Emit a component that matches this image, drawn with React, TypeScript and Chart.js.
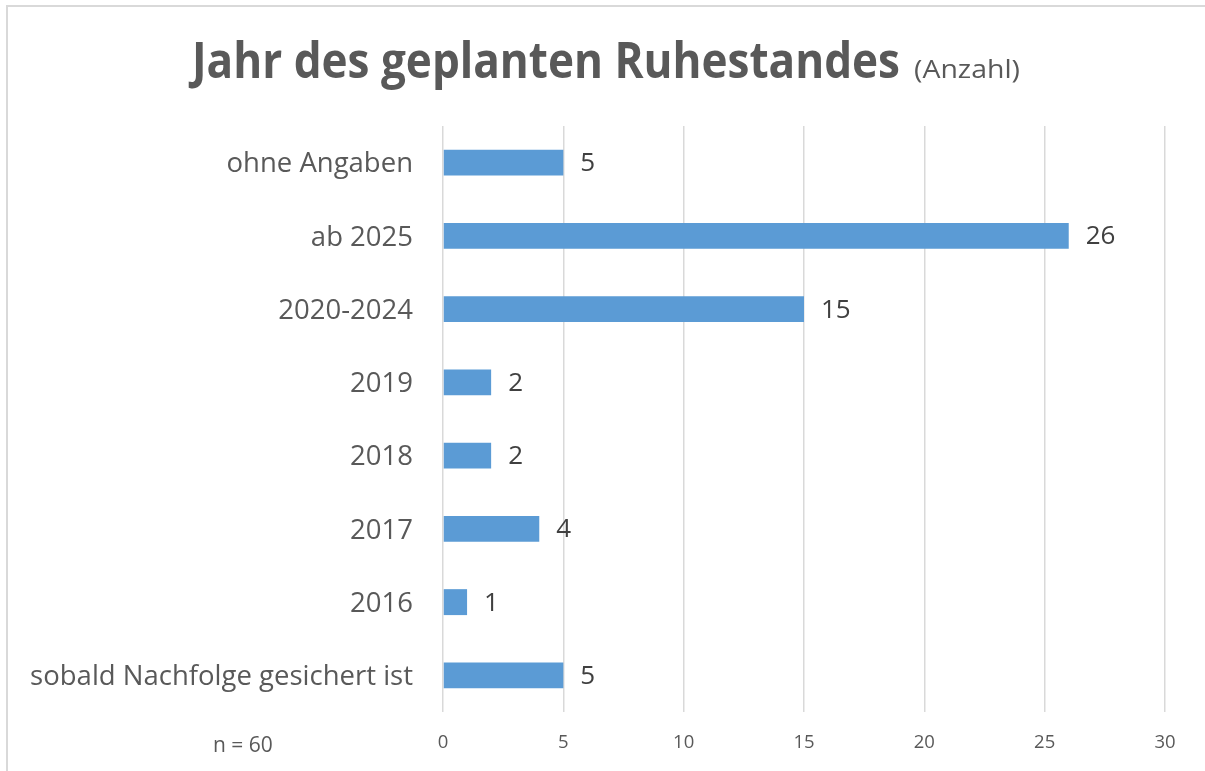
import React, { useEffect, useRef } from "react";
import { Chart, registerables } from "chart.js";

Chart.register(...registerables);

const categories = [
  "ohne Angaben",
  "ab 2025",
  "2020-2024",
  "2019",
  "2018",
  "2017",
  "2016",
  "sobald Nachfolge gesichert ist",
];
const values = [5, 26, 15, 2, 2, 4, 1, 5];
const xMin = 0;
const xMax = 30;
const xStep = 5;
const titleMain = "Jahr des geplanten Ruhestandes";
const titleSub = "(Anzahl)";
const footnote = "n = 60";

const FONT = "'Open Sans', 'Noto Sans', sans-serif";
const TEXT = "#595959";

const decorPlugin = {
  id: "decor",
  beforeDraw(chart: any) {
    const ctx = chart.ctx;
    ctx.save();
    ctx.fillStyle = "#ffffff";
    ctx.fillRect(0, 0, chart.width, chart.height);
    ctx.strokeStyle = "#d9d9d9";
    ctx.lineWidth = 2;
    ctx.strokeRect(7, 6, chart.width + 20, chart.height + 20);
    ctx.restore();
  },
  afterDraw(chart: any) {
    const ctx = chart.ctx;
    ctx.save();
    ctx.fillStyle = TEXT;
    ctx.textBaseline = "alphabetic";
    ctx.textAlign = "left";
    // main title
    ctx.font = `bold 50px ${FONT}`;
    const w1 = ctx.measureText(titleMain).width;
    ctx.save();
    ctx.translate(192, 78);
    ctx.scale(708 / w1, 1);
    ctx.fillText(titleMain, 0, 0);
    ctx.restore();
    // sub title
    ctx.font = `26px ${FONT}`;
    const w2 = ctx.measureText(titleSub).width;
    ctx.save();
    ctx.translate(914, 78);
    ctx.scale(106 / w2, 1);
    ctx.fillText(titleSub, 0, 0);
    ctx.restore();
    // footnote
    ctx.font = `21px ${FONT}`;
    ctx.textBaseline = "middle";
    ctx.fillText(footnote, 213, 746);
    ctx.restore();
  },
  afterDatasetsDraw(chart: any) {
    const ctx = chart.ctx;
    const meta = chart.getDatasetMeta(0);
    ctx.save();
    ctx.fillStyle = "#404040";
    ctx.font = `26px ${FONT}`;
    ctx.textAlign = "left";
    ctx.textBaseline = "middle";
    meta.data.forEach((el: any, i: number) => {
      ctx.fillText(String(values[i]), el.x + 17, el.y + 1);
    });
    ctx.restore();
  },
};

export default function App() {
  const ref = useRef<HTMLCanvasElement | null>(null);

  useEffect(() => {
    document.body.style.margin = "0";
    const canvas = ref.current;
    if (!canvas) return;
    const chart = new Chart(canvas, {
      type: "bar",
      data: {
        labels: categories,
        datasets: [
          {
            data: values,
            backgroundColor: "#5B9BD5",
            borderWidth: 0,
            barPercentage: 0.354,
            categoryPercentage: 1,
          },
        ],
      },
      options: {
        indexAxis: "y",
        responsive: false,
        animation: false,
        devicePixelRatio: 1,
        layout: { padding: { top: 126, right: 40, bottom: 0, left: 0 } },
        plugins: {
          legend: { display: false },
          title: { display: false },
          tooltip: { enabled: false },
        },
        scales: {
          x: {
            min: xMin,
            max: xMax,
            ticks: {
              stepSize: xStep,
              color: TEXT,
              font: { family: FONT, size: 18.5 },
              padding: 20,
            },
            grid: { color: "#d9d9d9", lineWidth: 1.5, drawTicks: false },
            border: { display: false },
            afterFit: (s: any) => {
              s.height = 59;
            },
          },
          y: {
            ticks: {
              color: TEXT,
              font: { family: FONT, size: 27.5 },
              padding: 30,
              labelOffset: 2,
            },
            grid: { display: false, drawTicks: false },
            border: { display: false },
            afterFit: (s: any) => {
              s.width = 443;
            },
          },
        },
      },
      plugins: [decorPlugin],
    });
    return () => chart.destroy();
  }, []);

  return (
    <canvas
      ref={ref}
      width={1205}
      height={771}
      style={{ display: "block", width: 1205, height: 771 }}
    />
  );
}
